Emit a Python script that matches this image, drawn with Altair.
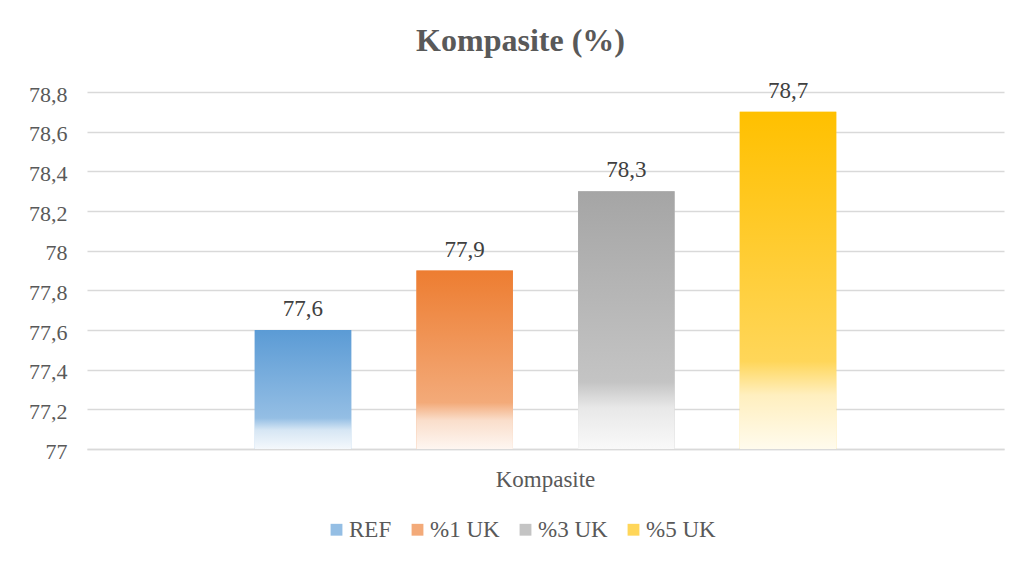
import altair as alt
import pandas as pd

series = ["REF", "%1 UK", "%3 UK", "%5 UK"]
values = [77.6, 77.9, 78.3, 78.7]
category = ["Kompasite", "Kompasite", "Kompasite", "Kompasite"]
y_ticks = [77, 77.2, 77.4, 77.6, 77.8, 78, 78.2, 78.4, 78.6, 78.8]
base_colors = ["#5B9BD5", "#ED7D31", "#A5A5A5", "#FFC000"]
mid_colors = ["#94BEE4", "#F3AA79", "#C4C4C4", "#FFD659"]
light_colors = ["#D6E6F4", "#FADECB", "#E8E8E8", "#FFEFBF"]
pale_colors = ["#F4F8FC", "#FEF6F1", "#F9F9F9", "#FFFBED"]

df = pd.DataFrame({"category": category, "series": series, "value": values})

FONT = "Liberation Serif"
TXT = "#595959"

x_enc = alt.X(
    "category:N",
    scale=alt.Scale(paddingInner=0, paddingOuter=0.209),
    axis=alt.Axis(
        title=None, labelAngle=0, ticks=False, tickSize=0, domain=True,
        domainColor="#D9D9D9", domainWidth=1.5, grid=False,
        labelFont=FONT, labelFontSize=23, labelColor=TXT,
        labelBaseline="alphabetic", labelPadding=37,
    ),
)
xo_enc = alt.XOffset(
    "series:N", sort=series,
    scale=alt.Scale(domain=series, paddingInner=0.403, paddingOuter=0.2015),
)
y_enc = alt.Y(
    "value:Q",
    scale=alt.Scale(domain=[77, 78.8], zero=False, nice=False),
    axis=alt.Axis(
        title=None, values=y_ticks, domain=False, ticks=False, tickSize=0,
        grid=True, gridColor="#D9D9D9", gridWidth=1.3,
        labelFont=FONT, labelFontSize=22, labelColor=TXT, labelPadding=20,
        labelOffset=2,
        labelExpr="replace(format(datum.value, '.1~f'), '.', ',')",
    ),
)
y2_enc = alt.datum(77)

base = alt.Chart(df)

legend_layer = base.mark_bar().encode(
    x=x_enc, xOffset=xo_enc, y=y_enc, y2=y2_enc,
    color=alt.Color(
        "series:N", sort=series,
        scale=alt.Scale(domain=series, range=mid_colors),
        legend=alt.Legend(
            title=None, orient="none", direction="horizontal",
            legendX=238, legendY=426, symbolType="square", symbolSize=140,
            symbolStrokeWidth=0,
            labelFont=FONT, labelFontSize=23, labelColor=TXT,
            columnPadding=14, labelOffset=1,
        ),
    ),
)

layers = [legend_layer]
for s, c0, c1, c2, c3 in zip(series, base_colors, mid_colors, light_colors, pale_colors):
    grad = alt.Gradient(
        gradient="linear",
        stops=[
            alt.GradientStop(color=c0, offset=0),
            alt.GradientStop(color=c1, offset=0.74),
            alt.GradientStop(color=c2, offset=0.84),
            alt.GradientStop(color=c3, offset=1),
        ],
        x1=0, x2=0, y1=0, y2=1,
    )
    layers.append(
        base.transform_filter(alt.datum.series == s)
        .mark_bar(color=grad)
        .encode(x=x_enc, xOffset=xo_enc, y=y_enc, y2=y2_enc)
    )

text_layer = base.transform_calculate(
    label="replace(format(datum.value, '.1f'), '.', ',')"
).mark_text(
    font=FONT, fontSize=23, color="#404040", baseline="alphabetic", dy=-14
).encode(x=x_enc, xOffset=xo_enc, y=y_enc, text="label:N")
layers.append(text_layer)

chart = alt.layer(*layers).properties(
    width=917,
    height=357,
    title=alt.TitleParams(
        "Kompasite (%)", font=FONT, fontSize=32, fontWeight="bold",
        color=TXT, anchor="middle", dx=-25, offset=-3, baseline="alphabetic",
    ),
    autosize=alt.AutoSizeParams(type="none"),
    padding={"left": 79, "top": 84, "right": 21, "bottom": 107},
).configure_view(stroke=None)

chart.save("out.html", embed_options={"renderer": "svg", "actions": False})
